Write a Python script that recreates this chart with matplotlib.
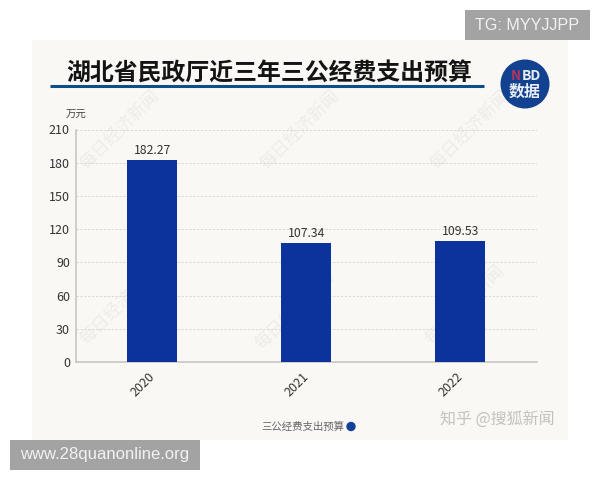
import matplotlib
matplotlib.use("Agg")
import matplotlib.pyplot as plt
from matplotlib.patches import Rectangle, Circle
from matplotlib.transforms import ScaledTranslation

plt.rcParams['font.family'] = ['Noto Sans CJK SC', 'DejaVu Sans']

years = ['2020', '2021', '2022']
budget = [182.27, 107.34, 109.53]
y_ticks = [0, 30, 60, 90, 120, 150, 180, 210]
title = '湖北省民政厅近三年三公经费支出预算'
unit = '万元'
series_name = '三公经费支出预算'
watermark = '每日经济新闻'
wm_positions = [(120, 130), (300, 130), (470, 130), (120, 305), (295, 310), (465, 305)]

W, H = 600, 480
fig = plt.figure(figsize=(W / 100, H / 100), dpi=100, facecolor='white')

bg = fig.add_axes([0, 0, 1, 1], zorder=0)
bg.set_xlim(0, W)
bg.set_ylim(H, 0)
bg.axis('off')
bg.add_patch(Rectangle((32, 40), 536, 400, fc='#faf8f4', ec='none'))
for x, y in wm_positions:
    bg.text(x, y, watermark, rotation=45, fontsize=12.5, color='#efece7', ha='center', va='center')

left, right, top, bottom = 75.5, 537, 129.5, 362
ax = fig.add_axes([left / W, 1 - bottom / H, (right - left) / W, (bottom - top) / H], zorder=1)
ax.patch.set_alpha(0)
ax.bar(years, budget, width=0.325, color='#0c339b', zorder=3)
ax.set_xlim(-0.5, 2.5)
ax.set_ylim(0, 210)
ax.set_yticks(y_ticks)
ax.yaxis.grid(True, color='#dcdad5', linestyle=(0, (2.5, 1.5)), linewidth=0.7)
ax.set_axisbelow(True)
for s in ['top', 'right']:
    ax.spines[s].set_visible(False)
for s in ['left', 'bottom']:
    ax.spines[s].set_color('#c4c2be')
    ax.spines[s].set_linewidth(1.1)
ax.tick_params(axis='both', length=0, colors='#333333', labelsize=9)
ax.tick_params(axis='y', pad=4)
ax.tick_params(axis='x', pad=6)
shift = ScaledTranslation(5 / 100, 0, fig.dpi_scale_trans)
for lab in ax.get_xticklabels():
    lab.set_rotation(45)
    lab.set_ha('right')
    lab.set_transform(lab.get_transform() + shift)
for i, v in enumerate(budget):
    ax.annotate(f'{v:.2f}', (i, v), xytext=(0, 2), textcoords='offset points',
                ha='center', va='bottom', fontsize=8.8, color='#333333')

ov = fig.add_axes([0, 0, 1, 1], zorder=2)
ov.set_xlim(0, W)
ov.set_ylim(H, 0)
ov.axis('off')
ov.text(66, 74, title, fontsize=17.2, fontweight='bold', color='#141414', ha='left', va='center')
ov.plot([50, 484], [85.5, 85.5], color='#0f4c8c', lw=2.2, solid_capstyle='butt')
ov.text(76.5, 114.5, unit, fontsize=7.5, color='#444444', ha='center', va='center')

ov.add_patch(Circle((525, 84), 24.5, fc='#12428f', ec='none'))
ov.text(516, 76.5, 'N', fontsize=9.5, fontweight='bold', style='italic', color='#b8325a', ha='center', va='center')
ov.text(531, 76.5, 'BD', fontsize=10, fontweight='bold', style='italic', color='#e8edf5', ha='center', va='center')
ov.text(525, 92, '数据', fontsize=11.5, fontweight='bold', style='italic', color='#e8edf5', ha='center', va='center')

ov.text(302.5, 426.5, series_name, fontsize=7.5, color='#666666', ha='center', va='center')
ov.add_patch(Circle((351, 426.5), 4.7, fc='#12409a', ec='none'))

ov.text(497, 419, '知乎 @搜狐新闻', fontsize=11.5, color='#c4c2be', ha='center', va='center')

ov.add_patch(Rectangle((465, 10), 125, 30, fc='#a3a3a3', ec='none'))
ov.text(527, 25.5, 'TG: MYYJJPP', fontsize=11.6, color='#f2f2f2', ha='center', va='center', family='Liberation Sans')
ov.add_patch(Rectangle((10, 440), 190, 30, fc='#a3a3a3', ec='none'))
ov.text(105, 455, 'www.28quanonline.org', fontsize=12, color='#f2f2f2', ha='center', va='center', family='Liberation Sans')

fig.savefig('out.png', dpi=100, facecolor='white')
